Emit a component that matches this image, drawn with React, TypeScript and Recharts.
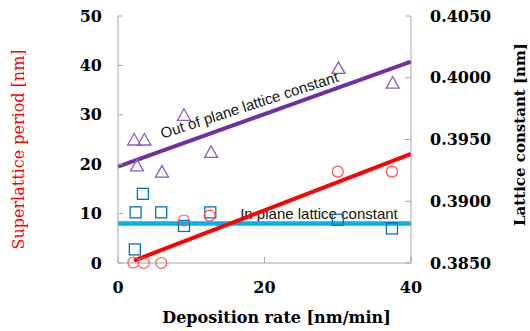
import { ComposedChart, Line, Scatter, XAxis, YAxis } from "recharts";

// superlattice period (left axis)
const periodRate = [2.1, 3.5, 5.9, 9.0, 12.5, 30.0, 37.4];
const periodValue = [0.1, 0.0, 0.0, 8.6, 9.6, 18.5, 18.5];

// out of plane lattice constant (right axis)
const outRate = [2.2, 3.6, 2.6, 6.0, 9.0, 12.7, 30.1, 37.5];
const outValue = [0.395, 0.395, 0.3929, 0.3924, 0.397, 0.394, 0.4008, 0.3996];

// in plane lattice constant (right axis)
const inRate = [2.3, 3.4, 2.4, 5.9, 9.0, 12.6, 30.0, 37.4];
const inValue = [0.3861, 0.3906, 0.3891, 0.3891, 0.388, 0.3891, 0.3885, 0.3878];

// fitted lines
const periodFitRate = [2.2, 40];
const periodFit = [0.5, 22.1];
const outFitRate = [0, 40];
const outFit = [0.3928, 0.4013];
const inFitRate = [0, 40];
const inFit = [0.3882, 0.3882];

const xTicks = [0, 20, 40];
const leftTicks = [0, 10, 20, 30, 40, 50];
const rightTicks = [0.385, 0.39, 0.395, 0.4, 0.405];

const pts = (xs: number[], ys: number[]) => xs.map((x, i) => ({ x, y: ys[i] }));

const SERIF = "DejaVu Serif";
const SANS = "Liberation Sans";
const FRAME = "#a6a6a6";

const tickStyle = { fill: "#000", fontSize: 16, fontFamily: SERIF, fontWeight: "bold" as const };

const CircleMark = (p: any) => (
  <circle cx={p.cx} cy={p.cy} r={5.5} fill="none" stroke="#ff4d4d" strokeWidth={1.2} />
);
const SquareMark = (p: any) => (
  <rect x={p.cx - 5.5} y={p.cy - 5.5} width={11} height={11} fill="none" stroke="#0070c0" strokeWidth={1.3} />
);
const TriangleMark = (p: any) => (
  <polygon
    points={`${p.cx},${p.cy - 6} ${p.cx + 6.5},${p.cy + 5.5} ${p.cx - 6.5},${p.cy + 5.5}`}
    fill="none"
    stroke="#8a5cc0"
    strokeWidth={1.3}
  />
);

export default function App() {
  return (
    <div style={{ position: "absolute", left: 0, top: 0, background: "#fff" }}>
      <ComposedChart width={530} height={331} margin={{ top: 16, right: 0, bottom: 0, left: 0 }}>
        <XAxis
          dataKey="x"
          type="number"
          domain={[0, 40]}
          ticks={xTicks}
          height={68}
          stroke={FRAME}
          tickSize={-6}
          tickMargin={25}
          tick={tickStyle}
          label={{
            value: "Deposition rate [nm/min]",
            position: "center",
            dx: 12,
            dy: 20,
            fill: "#000",
            fontSize: 16,
            fontFamily: SERIF,
            fontWeight: "bold",
          }}
        />
        <XAxis xAxisId="top" orientation="top" type="number" domain={[0, 40]} height={0} tick={false} tickLine={false} stroke={FRAME} />
        <YAxis
          yAxisId="left"
          type="number"
          domain={[0, 50]}
          ticks={leftTicks}
          width={118}
          stroke={FRAME}
          tickSize={-5}
          tickMargin={21}
          tick={tickStyle}
          label={{
            value: "Superlattice period [nm]",
            angle: -90,
            position: "center",
            dx: -41,
            dy: 10,
            fill: "#ff0000",
            fontSize: 16,
            fontFamily: SERIF,
          }}
        />
        <YAxis
          yAxisId="right"
          orientation="right"
          type="number"
          domain={[0.385, 0.405]}
          ticks={rightTicks}
          tickFormatter={(v: number) => v.toFixed(4)}
          width={119}
          stroke={FRAME}
          tickSize={-6}
          tickMargin={25}
          tick={tickStyle}
          label={{
            value: "Lattice constant [nm]",
            angle: -90,
            position: "center",
            dx: 49,
            dy: -5,
            fill: "#000",
            fontSize: 15,
            fontFamily: SERIF,
            fontWeight: "bold",
          }}
        />

        <Scatter yAxisId="right" data={pts(inRate, inValue)} dataKey="y" shape={SquareMark} isAnimationActive={false} />
        <Line yAxisId="right" data={pts(inFitRate, inFit)} dataKey="y" type="linear" stroke="#00b0f0" strokeWidth={4.5} dot={false} activeDot={false} isAnimationActive={false} />
        <Scatter yAxisId="right" data={pts(outRate, outValue)} dataKey="y" shape={TriangleMark} isAnimationActive={false} />
        <Line yAxisId="right" data={pts(outFitRate, outFit)} dataKey="y" type="linear" stroke="#7030a0" strokeWidth={4} dot={false} activeDot={false} isAnimationActive={false} />
        <Line yAxisId="left" data={pts(periodFitRate, periodFit)} dataKey="y" type="linear" stroke="#ff0000" strokeWidth={4} dot={false} activeDot={false} isAnimationActive={false} />
        <Scatter yAxisId="left" data={pts(periodRate, periodValue)} dataKey="y" shape={CircleMark} isAnimationActive={false} />

        <text
          x={251}
          y={110}
          transform="rotate(-18, 251, 110)"
          textAnchor="middle"
          fontSize={15}
          fontFamily={SANS}
          fill="#111"
        >
          Out of plane lattice constant
        </text>
        <text x={319} y={219} textAnchor="middle" fontSize={15} fontFamily={SANS} fill="#111">
          In plane lattice constant
        </text>
      </ComposedChart>
    </div>
  );
}
